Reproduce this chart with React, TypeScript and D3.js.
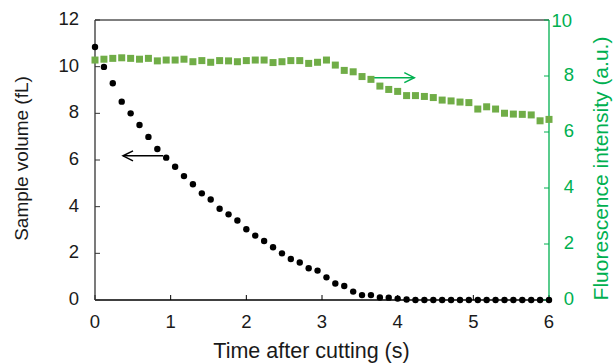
import React from "react";
import * as d3 from "d3";

// sampling times (s), shared by both series
const times = [
  0, 0.118, 0.235, 0.353, 0.471, 0.588, 0.706, 0.824, 0.941, 1.059,
  1.176, 1.294, 1.412, 1.529, 1.647, 1.765, 1.882, 2.0, 2.118, 2.235,
  2.353, 2.471, 2.588, 2.706, 2.824, 2.941, 3.059, 3.176, 3.294, 3.412,
  3.529, 3.647, 3.765, 3.882, 4.0, 4.118, 4.235, 4.353, 4.471, 4.588,
  4.706, 4.824, 4.941, 5.059, 5.176, 5.294, 5.412, 5.529, 5.647, 5.765,
  5.882, 6.0,
];

// sample volume (fL), left axis
const volume = [
  10.84, 9.99, 9.29, 8.5, 8.0, 7.5, 6.99, 6.47, 6.1, 5.71,
  5.31, 4.96, 4.57, 4.31, 3.91, 3.67, 3.41, 3.03, 2.76, 2.53,
  2.26, 2.0, 1.76, 1.61, 1.36, 1.26, 0.97, 0.71, 0.6, 0.36,
  0.21, 0.21, 0.11, 0.1, 0.06, 0.02, 0, 0, 0, 0,
  0, 0, 0, 0, 0, 0, 0, 0, 0, 0,
  0, 0,
];

// fluorescence intensity (a.u.), right axis
const fluorescence = [
  8.57, 8.6, 8.63, 8.65, 8.63, 8.6, 8.63, 8.54, 8.57, 8.57,
  8.6, 8.51, 8.55, 8.49, 8.55, 8.54, 8.51, 8.55, 8.57, 8.57,
  8.48, 8.51, 8.55, 8.55, 8.45, 8.49, 8.57, 8.39, 8.2, 8.15,
  7.98, 7.88, 7.64, 7.52, 7.45, 7.3, 7.3, 7.27, 7.23, 7.14,
  7.11, 7.07, 7.05, 6.82, 6.9, 6.82, 6.67, 6.64, 6.63, 6.61,
  6.4, 6.45,
];

const xTicks = [0, 1, 2, 3, 4, 5, 6];
const leftTicks = [0, 2, 4, 6, 8, 10, 12];
const rightTicks = [0, 2, 4, 6, 8, 10];

const font = "Arial, 'Liberation Sans', sans-serif";
const green = "#00b050";
const squareGreen = "#70ad47";
const tickSize = 18.5;

export default function App() {
  const width = 615;
  const height = 363;
  const margin = { top: 20, right: 66, bottom: 63, left: 95 };
  const x0 = margin.left;
  const x1 = width - margin.right;
  const y0 = height - margin.bottom;
  const y1 = margin.top;

  const x = d3.scaleLinear().domain([0, 6]).range([x0, x1]);
  const yL = d3.scaleLinear().domain([0, 12]).range([y0, y1]);
  const yR = d3.scaleLinear().domain([0, 10]).range([y0, y1]);

  const sq = 7;
  const blackArrowY = yL(6.18);
  const greenArrowY = yR(7.94);

  return (
    <svg
      width={width}
      height={height}
      style={{ position: "absolute", left: 0, top: 0, background: "#fff" }}
    >
      {/* top border */}
      <line x1={x0} x2={x1} y1={y1} y2={y1} stroke="#000" strokeWidth={1} />

      {/* bottom axis */}
      <line x1={x0} x2={x1} y1={y0} y2={y0} stroke="#000" strokeWidth={1.3} />
      {xTicks.map((t) => (
        <g key={"x" + t}>
          <line x1={x(t)} x2={x(t)} y1={y0} y2={y0 - 5} stroke="#000" />
          <text
            x={x(t)}
            y={323}
            textAnchor="middle"
            dominantBaseline="middle"
            fontFamily={font}
            fontSize={tickSize}
            fill="#1a1a1a"
          >
            {t}
          </text>
        </g>
      ))}

      {/* left axis */}
      <line x1={x0} x2={x0} y1={y1} y2={y0} stroke="#333" strokeWidth={1.3} />
      {leftTicks.map((t) => (
        <g key={"l" + t}>
          <line x1={x0} x2={x0 + 5} y1={yL(t)} y2={yL(t)} stroke="#333" />
          <text
            x={79}
            y={yL(t)}
            textAnchor="end"
            dominantBaseline="middle"
            fontFamily={font}
            fontSize={tickSize}
            fill="#1a1a1a"
          >
            {t}
          </text>
        </g>
      ))}

      {/* right axis */}
      <line x1={x1} x2={x1} y1={y1} y2={y0} stroke={green} strokeWidth={1.3} />
      {rightTicks.map((t) => (
        <g key={"r" + t}>
          <line x1={x1 - 5} x2={x1} y1={yR(t)} y2={yR(t)} stroke={green} />
          <text
            x={t === 10 ? 572 : 574}
            y={t === 10 ? yR(t) + 2.5 : yR(t)}
            textAnchor="end"
            dominantBaseline="middle"
            fontFamily={font}
            fontSize={tickSize}
            fill={green}
          >
            {t}
          </text>
        </g>
      ))}

      {/* fluorescence squares */}
      {times.map((t, i) => (
        <rect
          key={"f" + i}
          x={x(t) - sq / 2}
          y={yR(fluorescence[i]) - sq / 2}
          width={sq}
          height={sq}
          fill={squareGreen}
        />
      ))}

      {/* volume dots */}
      {times.map((t, i) => (
        <circle key={"v" + i} cx={x(t)} cy={yL(volume[i])} r={3.2} fill="#000" />
      ))}

      {/* arrows pointing to the matching axis */}
      <g fill="none" strokeWidth={1.5}>
        <line x1={x(0.9)} x2={x(0.37)} y1={blackArrowY} y2={blackArrowY} stroke="#000" />
        <polyline
          points={`${x(0.37) + 10},${blackArrowY - 5} ${x(0.37)},${blackArrowY} ${x(0.37) + 10},${blackArrowY + 5}`}
          stroke="#000"
        />
        <line x1={x(3.69)} x2={x(4.22)} y1={greenArrowY} y2={greenArrowY} stroke={green} />
        <polyline
          points={`${x(4.22) - 10},${greenArrowY - 5} ${x(4.22)},${greenArrowY} ${x(4.22) - 10},${greenArrowY + 5}`}
          stroke={green}
        />
      </g>

      {/* axis titles */}
      <text
        transform={`translate(23, 158.5) rotate(-90)`}
        textAnchor="middle"
        dominantBaseline="middle"
        fontFamily={font}
        fontSize={19}
        fill="#1a1a1a"
      >
        Sample volume (fL)
      </text>
      <text
        transform={`translate(602.5, 168.5) rotate(-90)`}
        textAnchor="middle"
        dominantBaseline="middle"
        fontFamily={font}
        fontSize={21}
        fill={green}
      >
        Fluorescence intensity (a.u.)
      </text>
      <text
        x={311.5}
        y={352}
        textAnchor="middle"
        dominantBaseline="middle"
        fontFamily={font}
        fontSize={21.5}
        fill="#1a1a1a"
      >
        Time after cutting (s)
      </text>
    </svg>
  );
}
